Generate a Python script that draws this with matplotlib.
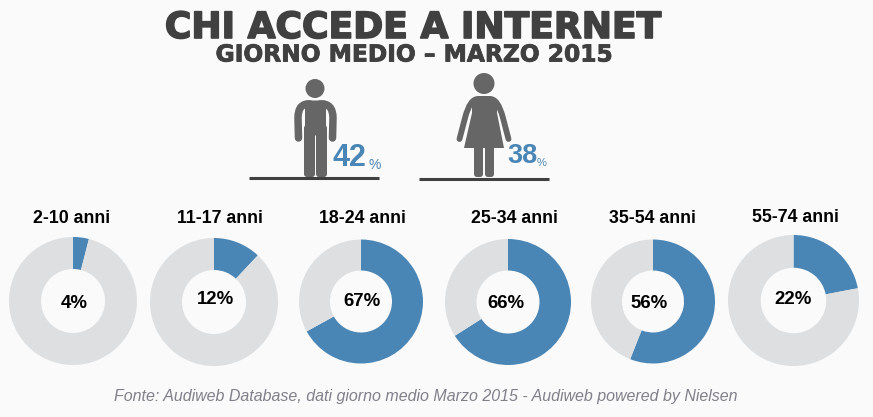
import matplotlib
matplotlib.use("Agg")
import matplotlib.pyplot as plt
import matplotlib.patheffects as pe
from matplotlib.patches import Circle, Polygon, FancyBboxPatch, PathPatch
from matplotlib.path import Path

WIDTH = 873
HEIGHT = 417

age_groups = ["2-10 anni", "11-17 anni", "18-24 anni", "25-34 anni", "35-54 anni", "55-74 anni"]
age_shares = [4, 12, 67, 66, 56, 22]
share_man = 42
share_woman = 38

# layout in image pixels: donut centre x, y and radius, then text centres
donut_layout = [(73, 301, 64), (214, 302, 64), (361, 301.5, 62),
                (508, 302, 63), (653, 301.5, 62), (793.5, 300.5, 65.5)]
label_pos = [(71.5, 218), (219.5, 218), (362, 218), (514.5, 218), (652, 218), (795.5, 217)]
pct_pos = [(74, 303), (215, 300), (362, 302), (506, 303), (649, 303), (793, 299)]

BG = "#FAFAFA"
BLUE = "#4A86B5"
GREY = "#DEDFE1"
DARK = "#404040"
ICON = "#666666"
FONT = "Liberation Sans"


def rounded_box(ax, x, y, w, h, r):
    ax.add_patch(FancyBboxPatch((x, y), w, h, boxstyle=f"round,pad=0,rounding_size={r}", color=ICON, lw=0))


def draw_man(ax):
    ax.add_patch(Circle((315, 88.5), 9.5, color=ICON, lw=0))
    rounded_box(ax, 305, 100.5, 21, 35, 2)
    rounded_box(ax, 304, 125, 11, 52, 3)
    rounded_box(ax, 316, 125, 11, 52, 3)
    # arms
    for verts in (
        [(310, 104), (298, 103), (298, 118), (298.5, 138)],
        [(320, 104), (333, 103), (333, 118), (332.5, 138)],
    ):
        path = Path(verts, [Path.MOVETO, Path.CURVE3, Path.CURVE3, Path.LINETO])
        ax.add_patch(PathPatch(path, fill=False, color=ICON, lw=5.4, capstyle="round"))


def draw_woman(ax):
    ax.add_patch(Circle((484, 83.5), 10.5, color=ICON, lw=0))
    dress = [(478, 96), (490, 96), (497, 100), (497, 113), (504, 148), (464, 148), (472, 113), (472, 100)]
    ax.add_patch(Polygon(dress, closed=True, color=ICON, lw=0))
    for verts in (
        [(479, 99), (470, 98), (465, 118), (459.5, 139)],
        [(489, 99), (498, 98), (503, 118), (508.5, 139)],
    ):
        path = Path(verts, [Path.MOVETO, Path.CURVE3, Path.CURVE3, Path.LINETO])
        ax.add_patch(PathPatch(path, fill=False, color=ICON, lw=4.2, capstyle="round"))
    rounded_box(ax, 474, 140, 9, 37, 3)
    rounded_box(ax, 485, 140, 9, 37, 3)


def draw_header(ax):
    title = ax.text(413.5, 28, "CHI ACCEDE A INTERNET", ha="center", va="center", family="DejaVu Sans",
                    weight="bold", fontsize=26, color=DARK)
    title.set_path_effects([pe.withStroke(linewidth=1.2, foreground=DARK)])
    sub = ax.text(414, 55, "GIORNO MEDIO \u2013 MARZO 2015", ha="center", va="center", family="DejaVu Sans",
                  weight="bold", fontsize=16.8, color=DARK)
    sub.set_path_effects([pe.withStroke(linewidth=0.6, foreground=DARK)])
    ax.text(426, 397, "Fonte: Audiweb Database, dati giorno medio Marzo 2015 - Audiweb powered by Nielsen",
            ha="center", va="center", family=FONT, style="italic", fontsize=11.5, color="#80808A")


def draw_icons(ax):
    draw_man(ax)
    draw_woman(ax)
    ax.plot([249, 379], [178, 178], color=DARK, lw=2.2, solid_capstyle="butt")
    ax.plot([419, 549], [179, 179], color=DARK, lw=2.2, solid_capstyle="butt")
    ax.text(349, 157.5, str(share_man), ha="center", va="center", family=FONT,
            weight="bold", fontsize=22, color=BLUE)
    ax.text(375, 165, "%", ha="center", va="center", family=FONT, fontsize=10, color=BLUE)
    ax.text(522.5, 156, str(share_woman), ha="center", va="center", family=FONT,
            weight="bold", fontsize=19.5, color=BLUE)
    ax.text(542, 163, "%", ha="center", va="center", family=FONT, fontsize=8, color=BLUE)


def draw_donut(fig, layout, share):
    cx, cy, r = layout
    ax = fig.add_axes([(cx - r) / WIDTH, 1 - (cy + r) / HEIGHT, 2 * r / WIDTH, 2 * r / HEIGHT])
    ax.pie([share, 100 - share], colors=[BLUE, GREY], startangle=90, counterclock=False, radius=1,
           wedgeprops={"width": 0.5, "linewidth": 0})
    ax.set_xlim(-1, 1)
    ax.set_ylim(-1, 1)
    ax.axis("off")


def main():
    fig = plt.figure(figsize=(WIDTH / 100, HEIGHT / 100), dpi=100, facecolor=BG)
    ax = fig.add_axes([0, 0, 1, 1])
    ax.set_xlim(0, WIDTH)
    ax.set_ylim(HEIGHT, 0)
    ax.axis("off")

    draw_header(ax)
    draw_icons(ax)
    for layout, share in zip(donut_layout, age_shares):
        draw_donut(fig, layout, share)

    # labels go on top of the donut axes
    top = fig.add_axes([0, 0, 1, 1], zorder=5)
    top.set_xlim(0, WIDTH)
    top.set_ylim(HEIGHT, 0)
    top.axis("off")
    for name, (x, y) in zip(age_groups, label_pos):
        top.text(x, y, name, ha="center", va="center", family=FONT, weight="bold", fontsize=12.8, color="black")
    for share, (x, y) in zip(age_shares, pct_pos):
        top.text(x, y, f"{share}%", ha="center", va="center", family=FONT, weight="bold", fontsize=13.4, color="black")

    fig.savefig("out.png", dpi=100, facecolor=BG)


if __name__ == "__main__":
    main()
